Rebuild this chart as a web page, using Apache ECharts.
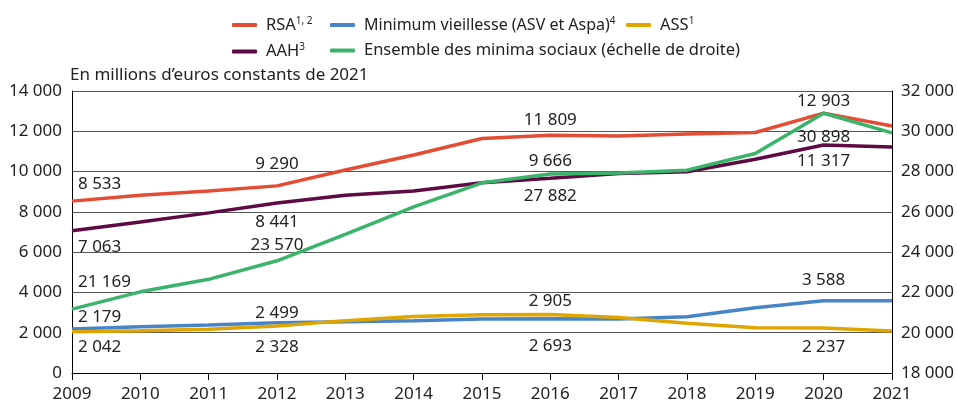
<!DOCTYPE html>
<html>
<head>
<meta charset="utf-8">
<script src="https://cdn.jsdelivr.net/npm/echarts@6/dist/echarts.min.js"></script>
<style>
    html, body {margin: 0; padding: 0; background: #fff;}
    #chart {width: 957px; height: 404px;}
</style>
</head>
<body>
<div id="chart"></div>
<script>
    //années
    const years = ['2009','2010','2011','2012','2013','2014','2015','2016','2017','2018','2019','2020','2021'];
    //RSA
    const rsa = [8533, 8830, 9030, 9290, 10080, 10820, 11640, 11809, 11760, 11870, 11940, 12903, 12260];
    //Minimum vieillesse
    const minVieillesse = [2179, 2300, 2385, 2499, 2550, 2600, 2680, 2693, 2685, 2795, 3240, 3588, 3585];
    //ASS
    const ass = [2042, 2100, 2170, 2328, 2600, 2800, 2895, 2905, 2760, 2465, 2250, 2237, 2085];
    //AAH
    const aah = [7063, 7500, 7950, 8441, 8820, 9030, 9440, 9666, 9900, 9990, 10610, 11317, 11225];
    //Ensemble (échelle de droite)
    const ensemble = [21169, 22030, 22650, 23570, 24880, 26250, 27440, 27882, 27930, 28070, 28900, 30898, 29920];

    //étiquettes : [index, position, distance]
    const labelSpots = {
        rsa: [[0,'top',8],[3,'top',13],[7,'top',6],[11,'top',3]],
        minVieillesse: [[0,'top',3],[3,'top',1],[7,'bottom',18],[11,'top',12]],
        ass: [[0,'bottom',6],[3,'bottom',12],[7,'top',4],[11,'bottom',10]],
        aah: [[0,'bottom',7],[3,'bottom',10],[7,'top',8],[11,'bottom',7]],
        ensemble: [[0,'top',18],[3,'top',7],[7,'bottom',13],[11,'bottom',15]],
    };

    const names = {
        rsa: 'RSA',
        minVieillesse: 'Minimum vieillesse (ASV et Aspa)',
        ass: 'ASS',
        aah: 'AAH',
        ensemble: 'Ensemble des minima sociaux (échelle de droite)',
    };
    const colors = {
        rsa: '#e34d34',
        minVieillesse: '#4785c9',
        ass: '#e0a500',
        aah: '#5e0a45',
        ensemble: '#3bb46b',
    };

    const font = 'Noto Sans';
    const fontSize = 17;
    const textColor = '#222';

    const fmt = v => String(v).replace(/\B(?=(\d{3})+(?!\d))/g, ' ');

    /**
     * données avec étiquettes
     */
    const withLabels = (values, spots) => values.map((v, i) => {
        const spot = spots.find(s => s[0] === i);
        if (!spot) {return v;}
        return {
            value: v,
            label: {
                show: true,
                position: spot[1],
                distance: spot[2],
                align: i === 0 ? 'left' : 'center',
                offset: i === 0 ? [6, 0] : [0, 0],
            }
        };
    });

    const makeSeries = (key, values, yAxisIndex) => ({
        name: names[key],
        type: 'line',
        yAxisIndex: yAxisIndex,
        data: withLabels(values, labelSpots[key]),
        symbol: 'circle',
        symbolSize: 1,
        showSymbol: true,
        showAllSymbol: true,
        lineStyle: {color: colors[key], width: 3.5},
        itemStyle: {color: 'rgba(0,0,0,0)'},
        label: {
            fontFamily: font,
            fontSize: fontSize,
            color: textColor,
            formatter: p => fmt(p.value),
        },
        emphasis: {disabled: true},
    });

    const supStyle = {fontFamily: font, fontSize: 10, color: textColor, verticalAlign: 'top', padding: [0, 0, 8, 0]};
    const legendText = {
        fontFamily: font,
        fontSize: 16.5,
        color: textColor,
        padding: [0, 0, 0, 4],
        rich: {sup: supStyle},
    };
    const sup = {
        'RSA': '1, 2',
        'Minimum vieillesse (ASV et Aspa)': '4',
        'ASS': '1',
        'AAH': '3',
    };
    const legendFormatter = name => sup[name] ? name + '{sup|' + sup[name] + '}' : name;
    const legendItem = (key, size) => {
        const item = {name: names[key], itemStyle: {color: colors[key]}};
        if (size) {
            item.textStyle = {...legendText, fontSize: size};
        }
        return item;
    };

    const legendBase = {
        orient: 'vertical',
        icon: 'roundRect',
        itemWidth: 25,
        itemHeight: 4,
        itemGap: 9,
        textStyle: legendText,
        formatter: legendFormatter,
        selectedMode: false,
        top: 11,
    };

    const chart = echarts.init(document.getElementById('chart'));
    const option = {
        animation: false,
        title: {
            text: 'En millions d\u2019euros constants de 2021',
            left: 65,
            top: 62,
            textStyle: {fontFamily: font, fontSize: fontSize, fontWeight: 'normal', color: textColor},
        },
        legend: [
            {...legendBase, left: 227, data: [legendItem('rsa'), legendItem('aah')]},
            {...legendBase, left: 325, data: [legendItem('minVieillesse', 16), legendItem('ensemble')]},
            {...legendBase, left: 621, data: [legendItem('ass')]},
        ],
        grid: {left: 72, right: 65, top: 91, bottom: 31},
        xAxis: {
            type: 'category',
            data: years,
            boundaryGap: false,
            axisLine: {lineStyle: {color: '#000', width: 1}},
            axisTick: {show: true, interval: 0, length: 7, lineStyle: {color: '#000'}},
            axisLabel: {fontFamily: font, fontSize: fontSize, color: textColor, margin: 13, interval: 0},
            splitLine: {show: false},
        },
        yAxis: [
            {
                type: 'value',
                min: 0,
                max: 14000,
                interval: 2000,
                axisLine: {show: true, lineStyle: {color: '#000'}},
                axisTick: {show: false},
                axisLabel: {fontFamily: font, fontSize: fontSize, color: textColor, margin: 10, formatter: fmt},
                splitLine: {show: true, lineStyle: {color: '#555', width: 1}},
            },
            {
                type: 'value',
                min: 18000,
                max: 32000,
                interval: 2000,
                axisLine: {show: true, lineStyle: {color: '#000'}},
                axisTick: {show: false},
                axisLabel: {fontFamily: font, fontSize: fontSize, color: textColor, margin: 9, formatter: fmt},
                splitLine: {show: false},
            },
        ],
        series: [
            makeSeries('rsa', rsa, 0),
            makeSeries('minVieillesse', minVieillesse, 0),
            makeSeries('ass', ass, 0),
            makeSeries('aah', aah, 0),
            makeSeries('ensemble', ensemble, 1),
        ],
    };
    chart.setOption(option);
</script>
</body>
</html>
